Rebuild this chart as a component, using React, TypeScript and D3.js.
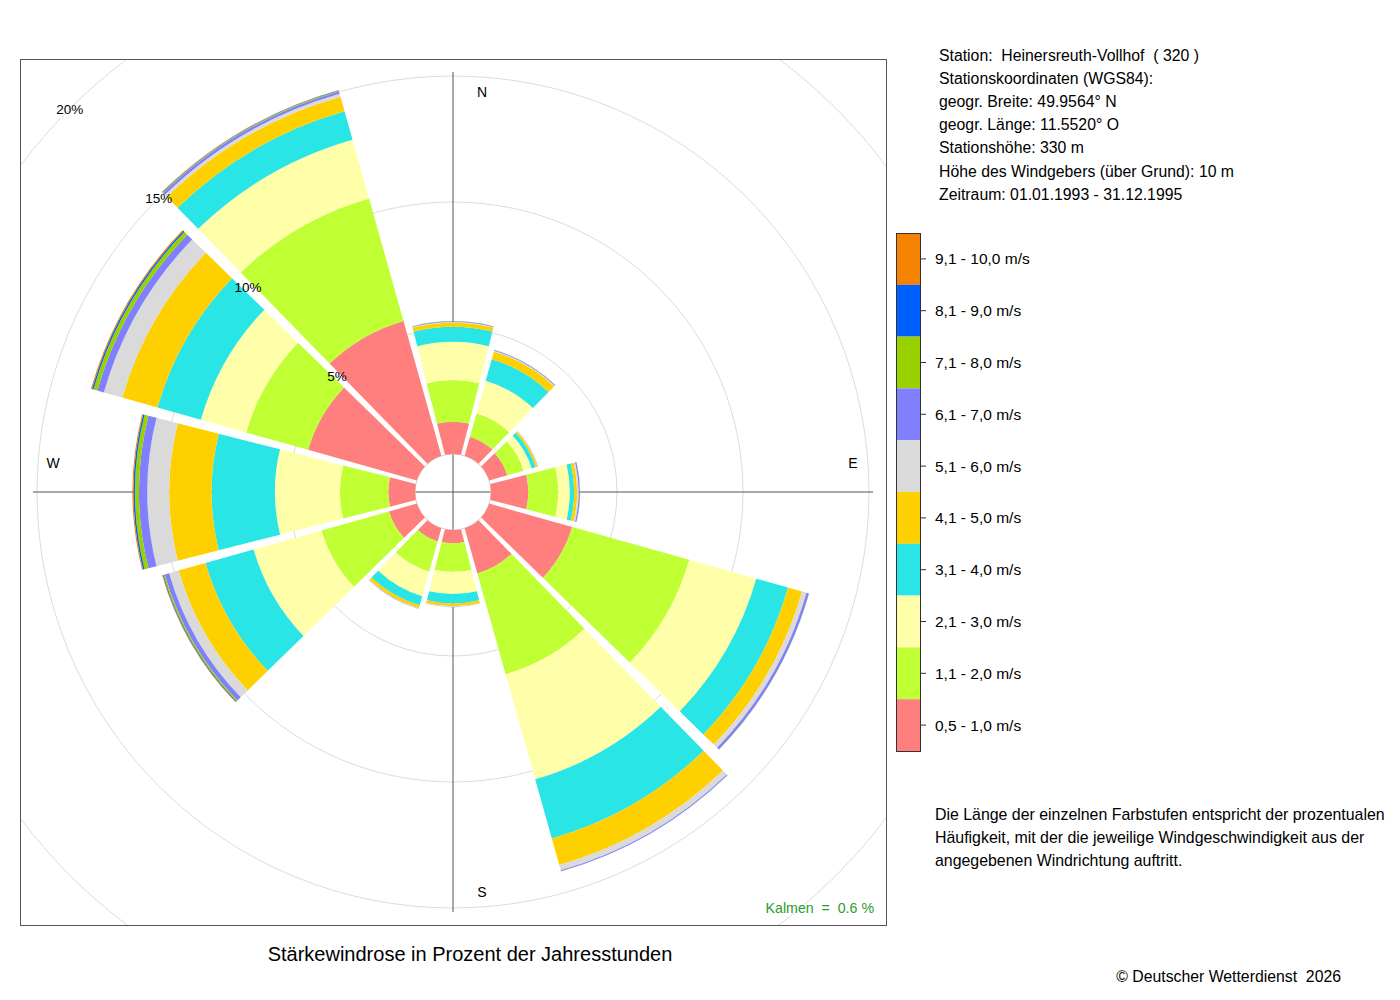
import React from 'react';
import * as d3 from 'd3';

// wind directions (degrees, clockwise from north)
const directions = [0, 30, 60, 90, 120, 150, 180, 210, 240, 270, 300, 330];

// speed classes, bottom (calm side) first
const speedLabels = [
    '0,5 - 1,0 m/s', '1,1 - 2,0 m/s', '2,1 - 3,0 m/s', '3,1 - 4,0 m/s', '4,1 - 5,0 m/s',
    '5,1 - 6,0 m/s', '6,1 - 7,0 m/s', '7,1 - 8,0 m/s', '8,1 - 9,0 m/s', '9,1 - 10,0 m/s'
];
const speedColors = [
    '#FF7F7F', '#BFFF33', '#FFFFAA', '#29E5E5', '#FFD000',
    '#DADADA', '#8080FF', '#99D100', '#0060FF', '#F58200'
];

// percent of year hours per class, one value per direction (same order as directions)
const v05_10 = [1.28, 0.79, 0.75, 1.48, 3.42, 1.87, 0.53, 0.55, 1.15, 1.06, 4.48, 5.56];
const v11_20 = [1.65, 0.96, 0.67, 1.19, 4.83, 4.15, 1.13, 1.25, 2.78, 1.92, 2.55, 5.05];
const v21_30 = [1.52, 1.34, 0.33, 0.46, 2.76, 4.33, 0.88, 1.00, 2.80, 2.58, 1.87, 2.42];
const v31_40 = [0.60, 0.89, 0.16, 0.17, 1.31, 2.44, 0.37, 0.38, 1.98, 2.51, 1.79, 1.17];
const v41_50 = [0.16, 0.31, 0.08, 0.12, 0.58, 1.09, 0.11, 0.12, 1.11, 1.68, 1.45, 0.60];
const v51_60 = [0.03, 0.04, 0.02, 0.06, 0.18, 0.22, 0.04, 0.02, 0.39, 0.87, 0.76, 0.12];
const v61_70 = [0.02, 0.03, 0.01, 0.05, 0.10, 0.04, 0.01, 0.01, 0.18, 0.33, 0.27, 0.10];
const v71_80 = [0.01, 0.01, 0.00, 0.01, 0.01, 0.01, 0.00, 0.00, 0.06, 0.16, 0.16, 0.03];
const v81_90 = [0.00, 0.00, 0.00, 0.00, 0.00, 0.00, 0.00, 0.00, 0.03, 0.06, 0.06, 0.02];
const v91_100 = [0.00, 0.00, 0.00, 0.00, 0.00, 0.00, 0.00, 0.00, 0.02, 0.04, 0.04, 0.01];
const classValues = [v05_10, v11_20, v21_30, v31_40, v41_50, v51_60, v61_70, v71_80, v81_90, v91_100];

const ringTicks = [5, 10, 15, 20];
const compassLabels = ['N', 'E', 'S', 'W'];

const infoLines = [
    'Station:  Heinersreuth-Vollhof  ( 320 )',
    'Stationskoordinaten (WGS84):',
    'geogr. Breite: 49.9564° N',
    'geogr. Länge: 11.5520° O',
    'Stationshöhe: 330 m',
    'Höhe des Windgebers (über Grund): 10 m',
    'Zeitraum: 01.01.1993 - 31.12.1995'
];
const noteLines = [
    'Die Länge der einzelnen Farbstufen entspricht der prozentualen',
    'Häufigkeit, mit der die jeweilige Windgeschwindigkeit aus der',
    'angegebenen Windrichtung auftritt.'
];
const calmText = 'Kalmen  =  0.6 %';
const title = 'Stärkewindrose in Prozent der Jahresstunden';
const copyright = '© Deutscher Wetterdienst  2026';

const FONT = '"Liberation Sans", Arial, Helvetica, sans-serif';

export default function App() {
    // plot geometry
    const cx = 453, cy = 492;
    const frame = {x: 20, y: 59, w: 866, h: 866};
    const r = d3.scaleLinear().domain([0, 20]).range([38, 542]);
    const rad = (deg: number) => deg * Math.PI / 180;

    const trim = rad(0.7);
    const arc = d3.arc<any>()
        .padRadius(100)
        .padAngle(0.0275);

    // stacked segments
    const segments: {d: string, fill: string}[] = [];
    directions.forEach((dir, i) => {
        let cum = 0;
        classValues.forEach((vals, k) => {
            const v = vals[i];
            if (v <= 0) return;
            const d = arc({
                innerRadius: r(cum),
                outerRadius: r(cum + v),
                startAngle: rad(dir - 15) + trim,
                endAngle: rad(dir + 15) - trim
            }) as string;
            segments.push({d, fill: speedColors[k]});
            cum += v;
        });
    });

    // legend scale (top = fastest class)
    const legendOrder = d3.range(speedLabels.length).reverse();
    const ly = d3.scaleBand<number>().domain(legendOrder).range([233, 751]);

    const compassPos = (i: number) => {
        const ang = rad(i * 90);
        const R = 400, off = 29;
        const x = cx + R * Math.sin(ang);
        const y = cy - R * Math.cos(ang);
        // shift N/S to the right, E/W upward
        return i % 2 === 0 ? [x + off, y] : [x, y - off];
    };

    return (
        <div style={{position: 'absolute', left: 0, top: 0}}>
            <svg width={1400} height={1000} style={{display: 'block', fontFamily: FONT}}>
                <defs>
                    <clipPath id="plotClip">
                        <rect x={frame.x} y={frame.y} width={frame.w} height={frame.h}/>
                    </clipPath>
                </defs>
                <rect x={0} y={0} width={1400} height={1000} fill="#fff"/>

                <g clipPath="url(#plotClip)">
                    {ringTicks.map(t => (
                        <circle key={t} cx={cx} cy={cy} r={r(t)} fill="none" stroke="#dcdcdc" strokeWidth={1}/>
                    ))}
                    <line x1={cx} x2={cx} y1={cy - 420} y2={cy + 420} stroke="#555" strokeWidth={1}/>
                    <line x1={cx - 420} x2={cx + 420} y1={cy} y2={cy} stroke="#555" strokeWidth={1}/>
                    <circle cx={cx} cy={cy} r={r(0)} fill="none" stroke="#cfcfcf" strokeWidth={1}/>
                    <g transform={`translate(${cx},${cy})`}>
                        {segments.map((s, j) => (
                            <path key={j} d={s.d} fill={s.fill}/>
                        ))}
                    </g>
                    {ringTicks.map(t => {
                        const a = rad(315);
                        return (
                            <text key={t} x={cx + r(t) * Math.sin(a)} y={cy - r(t) * Math.cos(a) + 5}
                                  textAnchor="middle" fontSize={13.5} fill="#000">{t}%</text>
                        );
                    })}
                    {compassLabels.map((lab, i) => {
                        const [x, y] = compassPos(i);
                        return (
                            <text key={lab} x={x} y={y + 5} textAnchor="middle" fontSize={14} fill="#000">{lab}</text>
                        );
                    })}
                    <text x={874} y={912.5} textAnchor="end" fontSize={14.2} fill="#2E9A2E"
                          style={{whiteSpace: 'pre'}}>{calmText}</text>
                </g>
                <rect x={frame.x + 0.5} y={frame.y + 0.5} width={frame.w} height={frame.h}
                      fill="none" stroke="#555" strokeWidth={1}/>

                {/* station info */}
                {infoLines.map((t, i) => (
                    <text key={i} x={939} y={60.5 + i * 23.2} fontSize={15.8} fill="#000"
                          style={{whiteSpace: 'pre'}}>{t}</text>
                ))}

                {/* legend */}
                {legendOrder.map(k => (
                    <g key={k}>
                        <rect x={896} y={ly(k)} width={24} height={ly.bandwidth()} fill={speedColors[k]}/>
                        <line x1={920} x2={926} y1={ly(k)! + ly.bandwidth() / 2} y2={ly(k)! + ly.bandwidth() / 2}
                              stroke="#333"/>
                        <text x={935} y={ly(k)! + ly.bandwidth() / 2 + 5.5} fontSize={15.5} fill="#000">
                            {speedLabels[k]}
                        </text>
                    </g>
                ))}
                <rect x={896.5} y={233.5} width={24} height={518} fill="none" stroke="#333"/>

                {noteLines.map((t, i) => (
                    <text key={i} x={935} y={819.5 + i * 23} fontSize={15.9} fill="#000">{t}</text>
                ))}

                <text x={470} y={961} textAnchor="middle" fontSize={20} fill="#000">{title}</text>
                <text x={1341} y={982} textAnchor="end" fontSize={15.8} fill="#000"
                      style={{whiteSpace: 'pre'}}>{copyright}</text>
            </svg>
        </div>
    );
}
